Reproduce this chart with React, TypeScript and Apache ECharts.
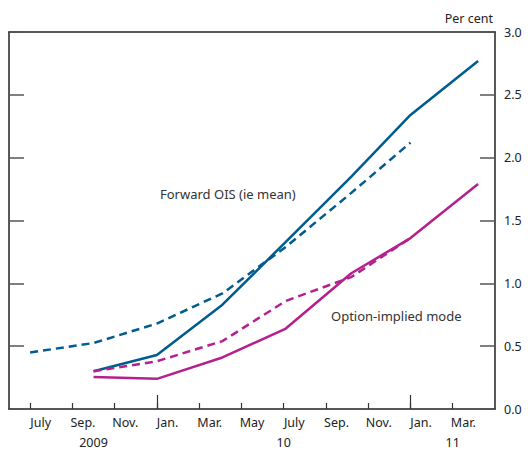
import React, { useEffect, useRef } from "react";
import * as echarts from "echarts";

// x values are months since 1 June 2009
const dashedBlueX = [1, 4, 7, 10.1, 13.1, 16.2, 19];
const forwardOisDashed = [0.45, 0.525, 0.68, 0.92, 1.29, 1.72, 2.12];
const solidX = [4, 7, 10.1, 13.1, 16.2, 19, 22.2];
const forwardOisSolid = [0.3, 0.43, 0.83, 1.33, 1.85, 2.34, 2.77];
const optionModeSolid = [0.255, 0.24, 0.41, 0.64, 1.08, 1.36, 1.79];
const dashedMagentaX = [4, 7, 10.1, 13.1, 16.2, 19];
const optionModeDashed = [0.3, 0.38, 0.54, 0.86, 1.05, 1.36];

const monthTicks = [1, 3, 5, 7, 9, 11, 13, 15, 17, 19, 21];
const monthLabels = ["July", "Sep.", "Nov.", "Jan.", "Mar.", "May", "July", "Sep.", "Nov.", "Jan.", "Mar."];
const yearTicks = [7, 19];
const yearLabelPos = [4, 13, 21];
const yearLabels = ["2009", "10", "11"];

const BLUE = "#005b8f";
const MAGENTA = "#b5208f";
const FONT = "'Noto Sans', 'Open Sans', sans-serif";

const pairs = (xs: number[], ys: number[]) => ys.map((y, i) => [xs[i], y]);

export default function App() {
  const ref = useRef<HTMLDivElement>(null);
  useEffect(() => {
    document.body.style.margin = "0";
    const chart = echarts.init(ref.current!, null, { renderer: "svg" });
    const labelPos = monthTicks.map((t) => t + 0.5);
    const lineSeries = (name: string, data: number[][], color: string, dashed: boolean) => ({
      name,
      type: "line",
      data,
      showSymbol: false,
      symbol: "none",
      lineStyle: { color, width: 2.5, type: dashed ? [8, 5] : "solid" },
      xAxisIndex: 0,
      yAxisIndex: 0,
    });
    chart.setOption({
      animation: false,
      grid: {
        left: 9,
        right: 33,
        top: 32,
        bottom: 41,
        containLabel: false,
        outerBoundsMode: "none",
      },
      xAxis: [
        {
          type: "value",
          min: 0,
          max: 23,
          position: "bottom",
          splitLine: { show: false },
          axisLine: { show: true, onZero: false, lineStyle: { color: "#222", width: 1.5 } },
          axisTick: {
            show: true,
            inside: true,
            length: 6,
            customValues: monthTicks,
            lineStyle: { color: "#333", width: 1.2 },
          },
          axisLabel: {
            show: true,
            customValues: labelPos,
            margin: 7,
            color: "#222",
            fontSize: 12.5,
            fontFamily: FONT,
            formatter: (v: number) => {
              const i = labelPos.findIndex((p) => Math.abs(p - v) < 1e-6);
              return i >= 0 ? monthLabels[i] : "";
            },
          },
        },
        {
          type: "value",
          min: 0,
          max: 23,
          position: "bottom",
          splitLine: { show: false },
          axisLine: { show: false, onZero: false },
          axisTick: {
            show: true,
            inside: true,
            length: 14,
            customValues: yearTicks,
            lineStyle: { color: "#333", width: 1.2 },
          },
          axisLabel: {
            show: true,
            customValues: yearLabelPos,
            margin: 27,
            color: "#222",
            fontSize: 12.5,
            fontFamily: FONT,
            formatter: (v: number) => {
              const i = yearLabelPos.findIndex((p) => Math.abs(p - v) < 1e-6);
              return i >= 0 ? yearLabels[i] : "";
            },
          },
        },
        {
          type: "value",
          min: 0,
          max: 23,
          position: "top",
          splitLine: { show: false },
          axisLine: { show: true, onZero: false, lineStyle: { color: "#222", width: 1.5 } },
          axisTick: { show: false },
          axisLabel: { show: false },
        },
      ],
      yAxis: [
        {
          type: "value",
          min: 0,
          max: 3,
          interval: 0.5,
          position: "right",
          splitLine: { show: false },
          axisLine: { show: true, onZero: false, lineStyle: { color: "#222", width: 1.5 } },
          axisTick: { show: true, inside: true, length: 15, lineStyle: { color: "#555", width: 1.5 } },
          axisLabel: {
            show: true,
            margin: 9,
            color: "#222",
            fontSize: 12.5,
            fontFamily: FONT,
            formatter: (v: number) => v.toFixed(1),
          },
        },
        {
          type: "value",
          min: 0,
          max: 3,
          interval: 0.5,
          position: "left",
          splitLine: { show: false },
          axisLine: { show: true, onZero: false, lineStyle: { color: "#222", width: 1.5 } },
          axisTick: { show: true, inside: true, length: 15, lineStyle: { color: "#555", width: 1.5 } },
          axisLabel: { show: true, inside: false, color: "transparent", formatter: () => "" },
        },
      ],
      graphic: [
        {
          type: "text",
          right: 35,
          top: 12,
          style: { text: "Per cent", fill: "#222", fontSize: 12.5, fontFamily: FONT },
        },
        {
          type: "text",
          left: 160,
          top: 187,
          style: { text: "Forward OIS (ie mean)", fill: "#333", fontSize: 13, fontFamily: FONT },
        },
        {
          type: "text",
          left: 331,
          top: 309,
          style: { text: "Option-implied mode", fill: "#333", fontSize: 13, fontFamily: FONT },
        },
      ],
      series: [
        lineSeries("Forward OIS (ie mean) dashed", pairs(dashedBlueX, forwardOisDashed), BLUE, true),
        lineSeries("Forward OIS (ie mean)", pairs(solidX, forwardOisSolid), BLUE, false),
        lineSeries("Option-implied mode dashed", pairs(dashedMagentaX, optionModeDashed), MAGENTA, true),
        lineSeries("Option-implied mode", pairs(solidX, optionModeSolid), MAGENTA, false),
      ],
    });
    return () => chart.dispose();
  }, []);
  return <div ref={ref} style={{ width: 528, height: 450 }} />;
}
